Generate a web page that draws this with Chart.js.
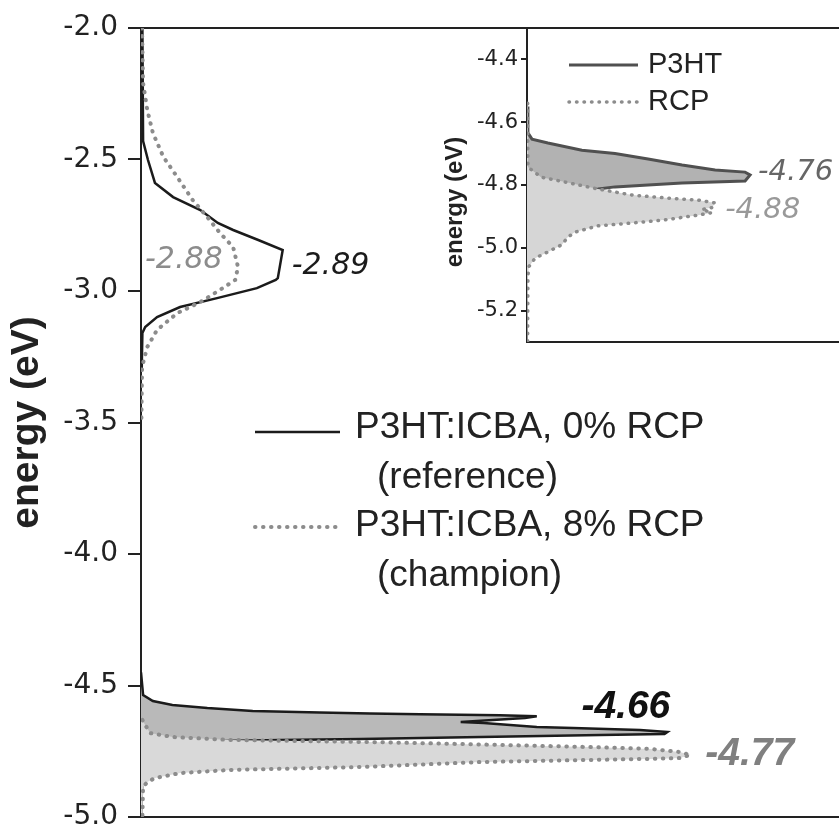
<!DOCTYPE html>
<html>
<head>
<meta charset="utf-8">
<title>energy (eV)</title>
<script src="https://cdn.jsdelivr.net/npm/chart.js@4/dist/chart.umd.min.js"></script>
<style>
  html, body { margin: 0; padding: 0; background: #fff; overflow: hidden; }
  #wrap { position: relative; width: 839px; height: 824px; }
  #main { position: absolute; left: 0; top: 0; }
  #inset { position: absolute; left: 430px; top: 0; }
</style>
</head>
<body>
<div id="wrap">
  <canvas id="main" width="839" height="824"></canvas>
  <canvas id="inset" width="409" height="350"></canvas>
</div>
<script>
// ---- main panel: energy (eV) against density of states (arbitrary units) ----
const seriesNames = ['P3HT:ICBA, 0% RCP', 'P3HT:ICBA, 8% RCP'];
const seriesNotes = ['(reference)', '(champion)'];
const mainTicks = [-2.0, -2.5, -3.0, -3.5, -4.0, -4.5, -5.0];
const mainPeaks = [-2.89, -2.88, -4.66, -4.77];

// reference (0% RCP), solid line
const refLumoE   = [-2.0, -2.43, -2.502, -2.589, -2.643, -2.692, -2.741, -2.768, -2.806, -2.844, -2.951, -2.958, -2.989, -3.027, -3.061, -3.099, -3.137, -3.16, -3.3];
const refLumoDos = [0.2, 0.3, 1.0, 2.0, 4.6, 8.5, 11.0, 13.2, 16.8, 20.3, 19.6, 19.3, 16.6, 10.9, 5.6, 2.3, 0.6, 0.2, 0.1];
const refHomoE   = [-4.45, -4.536, -4.559, -4.574, -4.586, -4.597, -4.603, -4.606, -4.609, -4.613, -4.617, -4.624, -4.639, -4.643, -4.658, -4.662, -4.669, -4.677, -4.684, -4.688, -4.696, -4.703, -4.707, -4.711, -4.72, -4.74, -4.78, -4.85, -5.0];
const refHomoDos = [0, 0.3, 1.7, 4.5, 9.5, 16.0, 25.6, 32.8, 40.0, 51.4, 56.7, 55.0, 45.8, 49.1, 56.7, 61.9, 71.5, 75.4, 75.0, 65.8, 48.7, 31.5, 20.0, 12.0, 6.0, 2.5, 0.8, 0.2, 0];

// champion (8% RCP), dotted line
const champLumoE   = [-2.0, -2.209, -2.312, -2.399, -2.49, -2.567, -2.654, -2.719, -2.779, -2.833, -2.909, -2.958, -2.996, -3.042, -3.084, -3.148, -3.213, -3.289, -3.5];
const champLumoDos = [0.15, 0.3, 0.9, 1.7, 3.2, 5.2, 7.4, 9.5, 11.3, 13.2, 13.9, 13.5, 11.3, 8.5, 5.2, 2.3, 0.9, 0.15, 0.05];
const champHomoE   = [-4.631, -4.65, -4.681, -4.696, -4.707, -4.711, -4.715, -4.722, -4.734, -4.741, -4.753, -4.764, -4.776, -4.779, -4.783, -4.791, -4.81, -4.821, -4.833, -4.852, -4.867, -4.886, -5.0];
const champHomoDos = [0.2, 0.6, 1.3, 4.6, 12.8, 22.4, 32.8, 45.0, 64.3, 72.9, 77.2, 78.7, 77.2, 72.9, 64.3, 48.6, 31.4, 12.8, 5.6, 2.0, 0.9, 0.3, 0.2];

// ---- inset: neat films ----
const insetNames = ['P3HT', 'RCP'];
const insetTicks = [-4.4, -4.6, -4.8, -5.0, -5.2];
const insetPeaks = [-4.76, -4.88];
const p3htE   = [-4.55, -4.634, -4.654, -4.666, -4.689, -4.70, -4.717, -4.736, -4.752, -4.759, -4.768, -4.787, -4.794, -4.80, -4.806, -4.813, -4.822, -4.835, -4.864, -4.90];
const p3htDos = [0, 0.3, 1.6, 6.7, 17.6, 28.2, 38.8, 49.7, 60.3, 69.9, 71.5, 69.9, 49.7, 38.8, 28.2, 22.8, 13.8, 4.2, 1.0, 0];
const rcpE    = [-4.54, -4.743, -4.775, -4.79, -4.813, -4.832, -4.841, -4.848, -4.857, -4.872, -4.878, -4.888, -4.896, -4.911, -4.921, -4.93, -4.95, -4.966, -4.99, -5.013, -5.033, -5.06, -5.09, -5.3];
const rcpDos  = [0.2, 0.3, 4.5, 11.9, 22.8, 33.7, 44.2, 54.8, 60.3, 59.3, 56.0, 59.3, 54.8, 44.2, 33.7, 22.8, 15.4, 13.1, 11.2, 6.7, 2.6, 0.6, 0.3, 0.2];

const AXIS = '#222';
const SANS = 'DejaVu Sans';
const ARIAL = '"Liberation Sans", Arial, sans-serif';

function pts(es, ds) {
  return es.map((e, i) => ({ x: ds[i], y: e }));
}

function solid(color, width) {
  return { borderColor: color, borderWidth: width, pointRadius: 0, tension: 0 };
}
function dotted(color, width, gap) {
  return { borderColor: color, borderWidth: width, borderDash: [0.5, gap], borderCapStyle: 'round', pointRadius: 0, tension: 0 };
}

function drawText(ctx, text, x, y, font, color, align, rot) {
  ctx.save();
  ctx.font = font;
  ctx.fillStyle = color;
  ctx.textAlign = align || 'left';
  ctx.textBaseline = 'middle';
  ctx.translate(x, y);
  if (rot) ctx.rotate(rot);
  ctx.fillText(text, 0, 0);
  ctx.restore();
}

function sampleLine(ctx, ds, x1, x2, y) {
  ctx.save();
  ctx.strokeStyle = ds.borderColor;
  ctx.lineWidth = ds.borderWidth;
  ctx.lineCap = ds.borderCapStyle || 'butt';
  ctx.setLineDash(ds.borderDash || []);
  ctx.beginPath();
  ctx.moveTo(x1, y);
  ctx.lineTo(x2, y);
  ctx.stroke();
  ctx.restore();
}

function frameAxis(pos) {
  return {
    type: 'linear', position: pos, min: 0, max: 100,
    ticks: { display: false },
    grid: { display: false },
    border: { display: true, color: AXIS, width: 2 },
    afterFit: s => { s.height = 0; s.paddingLeft = 0; s.paddingRight = 0; }
  };
}

function energyAxis(min, max, tickVals, o) {
  return {
    type: 'linear', position: 'left', min: min, max: max,
    afterBuildTicks: s => { s.ticks = tickVals.map(v => ({ value: v })); },
    afterFit: s => { s.width = o.width; s.paddingTop = 0; s.paddingBottom = 0; },
    ticks: { font: { family: SANS, size: o.tickSize }, color: AXIS, padding: o.pad, callback: v => v.toFixed(1) },
    grid: { display: true, drawOnChartArea: false, drawTicks: true, tickLength: o.tickLen, color: AXIS, lineWidth: 2 },
    border: { display: true, color: AXIS, width: 2 },
    title: o.title ? { display: true, text: 'energy (eV)', color: AXIS, padding: { top: o.titlePad, bottom: 0 },
             font: { family: ARIAL, size: o.titleSize, weight: 'bold' } } : { display: false }
  };
}

// ---------- main chart ----------
const black = '#1b1b1b', grey = '#8c8c8c';
const refStyle = solid(black, 2.5);
const champStyle = dotted(grey, 4, 7.5);

const mainDatasets = [
  Object.assign({ label: seriesNames[1], data: pts(champLumoE, champLumoDos), fill: false, order: 0 }, champStyle),
  Object.assign({ label: seriesNames[1], data: pts(champHomoE, champHomoDos), fill: 'origin', backgroundColor: '#d9d9d9', order: 0 }, champStyle),
  Object.assign({ label: seriesNames[0], data: pts(refLumoE, refLumoDos), fill: false, order: 1 }, refStyle),
  Object.assign({ label: seriesNames[0], data: pts(refHomoE, refHomoDos), fill: 'origin', backgroundColor: '#b9b9b9', order: 1 }, refStyle)
];

const mainNotes = {
  id: 'mainNotes',
  afterDraw(chart) {
    const { ctx, scales: { x, y } } = chart;
    const refMax = Math.max(...refLumoDos), champHomoMax = Math.max(...champHomoDos), refHomoMax = Math.max(...refHomoDos);
    const it = 'italic 30px "' + SANS + '"';
    const bi = 'italic bold 39px ' + ARIAL;
    drawText(ctx, mainPeaks[0].toFixed(2), x.getPixelForValue(refMax) + 9, y.getPixelForValue(mainPeaks[0]) + 4, it, black);
    drawText(ctx, mainPeaks[1].toFixed(2), x.getPixelForValue(0) + 4, y.getPixelForValue(mainPeaks[1]) + 1, it, grey);
    drawText(ctx, mainPeaks[2].toFixed(2), x.getPixelForValue(refHomoMax) + 3, y.getPixelForValue(mainPeaks[2]) - 20, bi, '#111', 'right');
    drawText(ctx, mainPeaks[3].toFixed(2), x.getPixelForValue(champHomoMax) + 15, y.getPixelForValue(mainPeaks[3]) - 2, bi, '#808080');

    // legend
    const lf = '37px ' + ARIAL;
    sampleLine(ctx, refStyle, 255, 340, 432);
    drawText(ctx, seriesNames[0], 355, 428, lf, AXIS);
    drawText(ctx, seriesNotes[0], 377, 478, lf, AXIS);
    sampleLine(ctx, champStyle, 255, 340, 527);
    drawText(ctx, seriesNames[1], 355, 526, lf, AXIS);
    drawText(ctx, seriesNotes[1], 377, 576, lf, AXIS);
  }
};

new Chart(document.getElementById('main'), {
  type: 'line',
  data: { datasets: mainDatasets },
  options: {
    indexAxis: 'y',
    responsive: false,
    animation: false,
    layout: { padding: { top: 28, bottom: 7, left: 0, right: 0 } },
    plugins: { legend: { display: false }, tooltip: { enabled: false } },
    scales: {
      x: frameAxis('bottom'),
      xTop: frameAxis('top'),
      y: energyAxis(-5, -2, mainTicks, { width: 141, tickSize: 28, pad: 10, tickLen: 13, title: true, titleSize: 39, titlePad: 4 })
    }
  },
  plugins: [mainNotes]
});

// ---------- inset ----------
const p3htStyle = solid('#505050', 3);
const rcpStyle = dotted('#8c8c8c', 3.5, 7);

const insetNotes = {
  id: 'insetNotes',
  afterDraw(chart) {
    const { ctx, scales: { x, y } } = chart;
    const it = 'italic 29px "' + SANS + '"';
    drawText(ctx, insetPeaks[0].toFixed(2), x.getPixelForValue(Math.max(...p3htDos)) + 8, y.getPixelForValue(insetPeaks[0]), it, '#666');
    drawText(ctx, insetPeaks[1].toFixed(2), x.getPixelForValue(Math.max(...rcpDos)) + 10, y.getPixelForValue(insetPeaks[1]), it, '#999');

    // axis title, sitting a little below the middle of the inset
    drawText(ctx, 'energy (eV)', 25, 202, 'bold 24px ' + ARIAL, AXIS, 'center', -Math.PI / 2);

    const lf = '29px ' + ARIAL;
    sampleLine(ctx, p3htStyle, 139, 208, 65);
    drawText(ctx, insetNames[0], 218, 65, lf, AXIS);
    sampleLine(ctx, rcpStyle, 139, 208, 102);
    drawText(ctx, insetNames[1], 218, 102, lf, AXIS);
  }
};

new Chart(document.getElementById('inset'), {
  type: 'line',
  data: {
    datasets: [
      Object.assign({ label: insetNames[1], data: pts(rcpE, rcpDos), fill: 'origin', backgroundColor: '#d6d6d6', order: 0 }, rcpStyle),
      Object.assign({ label: insetNames[0], data: pts(p3htE, p3htDos), fill: 'origin', backgroundColor: '#b2b2b2', order: 1 }, p3htStyle)
    ]
  },
  options: {
    indexAxis: 'y',
    responsive: false,
    animation: false,
    layout: { padding: { top: 28, bottom: 8, left: 0, right: 0 } },
    plugins: { legend: { display: false }, tooltip: { enabled: false } },
    scales: {
      x: frameAxis('bottom'),
      xTop: frameAxis('top'),
      y: energyAxis(-5.3, -4.3, insetTicks, { width: 97, tickSize: 21, pad: 3, tickLen: 6, title: false })
    }
  },
  plugins: [insetNotes]
});
</script>
</body>
</html>
